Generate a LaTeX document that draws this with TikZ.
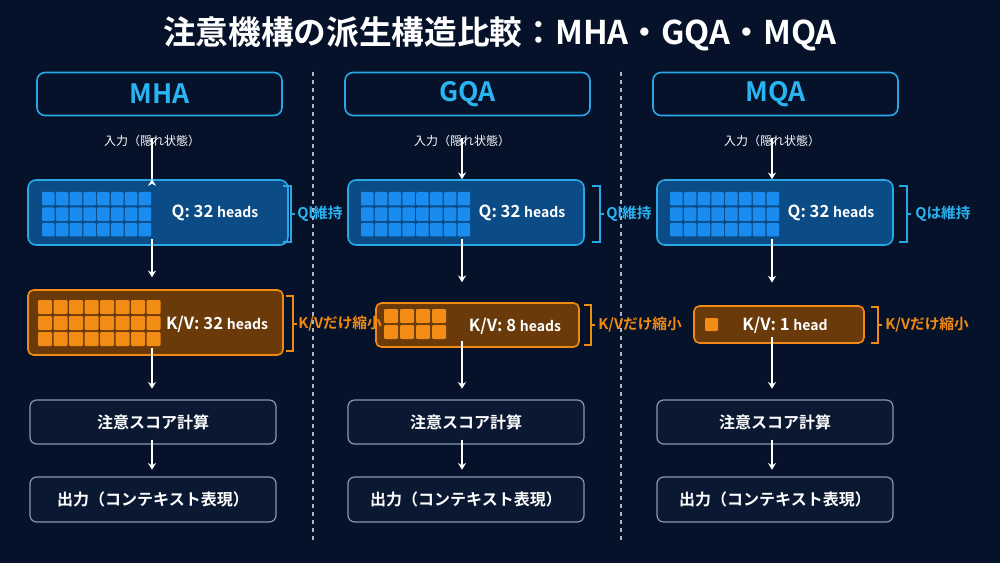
\documentclass[tikz,border=0pt]{standalone}
\usepackage{fontspec}
\setmainfont{Noto Sans CJK JP}[BoldFont={Noto Sans CJK JP Bold}]
\usetikzlibrary{arrows.meta}
\definecolor{bg}{HTML}{06122A}
\definecolor{cyanT}{HTML}{2AB4F2}
\definecolor{qfill}{HTML}{0B4C86}
\definecolor{qedge}{HTML}{2AA8E6}
\definecolor{qsq}{HTML}{1A8CF0}
\definecolor{kfill}{HTML}{6A3A0A}
\definecolor{kedge}{HTML}{F08A12}
\definecolor{ksq}{HTML}{F28C14}
\definecolor{gedge}{HTML}{8A98AE}
\definecolor{gfill}{HTML}{0A1832}
\begin{document}
\begin{tikzpicture}[x=0.75pt,y=-0.75pt,
  hdr/.style={draw=qedge,line width=1.2pt,rounded corners=6pt,fill=bg,text=cyanT,font=\bfseries\fontsize{20}{22}\selectfont,inner sep=0},
  qbox/.style={draw=qedge,line width=1.2pt,rounded corners=6pt,fill=qfill,inner sep=0},
  kbox/.style={draw=kedge,line width=1.2pt,rounded corners=4pt,fill=kfill,inner sep=0},
  gbox/.style={draw=gedge,line width=0.9pt,rounded corners=5pt,fill=gfill,text=white,font=\bfseries\fontsize{12}{14}\selectfont,inner sep=0},
  lbl/.style={text=white,font=\bfseries\fontsize{12.5}{14}\selectfont,inner sep=0},
  small/.style={text=white,font=\fontsize{9}{11}\selectfont,inner sep=0},
  side/.style={font=\bfseries\fontsize{11}{13}\selectfont,inner sep=0,anchor=west},
  arr/.style={draw=white,line width=1.1pt,-{Stealth[length=5pt,width=6pt]}},
  brk/.style={line width=1.1pt},
  qs/.style={fill=qsq,rounded corners=0.8pt},
  ks/.style={fill=ksq,rounded corners=0.8pt}]
\fill[bg] (0,0) rectangle (1000,563);
\node[text=white,font=\bfseries\fontsize{24.5}{28}\selectfont] (title) at (500,34) {注意機構の派生構造比較：MHA・GQA・MQA};
\draw[gedge!70,dashed,line width=0.8pt] (313,72) -- (313,540) (621,72) -- (621,540);
% headers
\node[hdr,minimum width=245*0.75pt,minimum height=43*0.75pt] (h1) at (159.5,94) {MHA};
\node[hdr,minimum width=245*0.75pt,minimum height=43*0.75pt] (h2) at (467.5,94) {GQA};
\node[hdr,minimum width=245*0.75pt,minimum height=43*0.75pt] (h3) at (775.5,94) {MQA};
% inputs
\node[small] (in1) at (152,141) {入力（隠れ状態）};
\node[small] (in2) at (462,141) {入力（隠れ状態）};
\node[small] (in3) at (772,141) {入力（隠れ状態）};
% Q boxes
\node[qbox,minimum width=260*0.75pt,minimum height=65*0.75pt] (q1) at (158,212.5) {};
\node[qbox,minimum width=236*0.75pt,minimum height=65*0.75pt] (q2) at (466,212.5) {};
\node[qbox,minimum width=236*0.75pt,minimum height=65*0.75pt] (q3) at (775,212.5) {};
\foreach \x in {42,361,670}{
  \foreach \c in {0,...,7}{\foreach \r in {0,1,2}{
    \fill[qs] (\x+\c*13.8,192+\r*15.5) rectangle ++(12.5,13.5);}}
}
\node[lbl] (ql1) at (215,213) {Q: 32 {\fontsize{10.5}{12}\selectfont heads}};
\node[lbl] (ql2) at (522,213) {Q: 32 {\fontsize{10.5}{12}\selectfont heads}};
\node[lbl] (ql3) at (831,213) {Q: 32 {\fontsize{10.5}{12}\selectfont heads}};
% K/V boxes
\node[kbox,minimum width=255*0.75pt,minimum height=65*0.75pt] (k1) at (155.5,322.5) {};
\node[kbox,minimum width=203*0.75pt,minimum height=44*0.75pt] (k2) at (477.5,325) {};
\node[kbox,minimum width=170*0.75pt,minimum height=37*0.75pt] (k3) at (779,324.5) {};
\foreach \c in {0,...,7}{\foreach \r in {0,1,2}{
  \fill[ks] (38+\c*15.5,300+\r*16) rectangle ++(14,14);}}
\foreach \c in {0,...,3}{\foreach \r in {0,1}{
  \fill[ks] (384+\c*16,309+\r*16) rectangle ++(14,14);}}
\fill[ks] (705,318) rectangle ++(13,13);
\node[lbl] (kl1) at (217,324) {K/V: 32 {\fontsize{10.5}{12}\selectfont heads}};
\node[lbl] (kl2) at (515,326) {K/V: 8 {\fontsize{10.5}{12}\selectfont heads}};
\node[lbl] (kl3) at (785,325) {K/V: 1 {\fontsize{10.5}{12}\selectfont head}};
% brackets
\draw[brk,qedge] (283,186) -- (291,186) -- (291,242) -- (283,242) (291,214) -- (295,214);
\draw[brk,qedge] (592,186) -- (600,186) -- (600,242) -- (592,242) (600,214) -- (604,214);
\draw[brk,qedge] (899,186) -- (907,186) -- (907,242) -- (899,242) (907,214) -- (911,214);
\node[side,text=cyanT] (s1) at (297,214) {Ql維持};
\node[side,text=cyanT] (s2) at (606,214) {Ql維持};
\node[side,text=cyanT] (s3) at (915,214) {Qは維持};
\draw[brk,kedge] (286,296) -- (293,296) -- (293,351) -- (286,351) (293,324) -- (297,324);
\draw[brk,kedge] (584,305) -- (591,305) -- (591,345) -- (584,345) (591,325) -- (595,325);
\draw[brk,kedge] (871,307) -- (878,307) -- (878,343) -- (871,343) (878,325) -- (882,325);
\node[side,text=kedge] (t1) at (298,324) {K/Vだけ縮小};
\node[side,text=kedge] (t2) at (598,325) {K/Vだけ縮小};
\node[side,text=kedge] (t3) at (885,325) {K/Vだけ縮小};
% score & output
\node[gbox,minimum width=246*0.75pt,minimum height=44*0.75pt] (a1) at (153,422) {注意スコア計算};
\node[gbox,minimum width=236*0.75pt,minimum height=44*0.75pt] (a2) at (466,422) {注意スコア計算};
\node[gbox,minimum width=236*0.75pt,minimum height=44*0.75pt] (a3) at (775,422) {注意スコア計算};
\node[gbox,minimum width=246*0.75pt,minimum height=45*0.75pt] (o1) at (153,499.5) {出力（コンテキスト表現）};
\node[gbox,minimum width=236*0.75pt,minimum height=45*0.75pt] (o2) at (466,499.5) {出力（コンテキスト表現）};
\node[gbox,minimum width=236*0.75pt,minimum height=45*0.75pt] (o3) at (775,499.5) {出力（コンテキスト表現）};
% arrows
\draw[arr] (in1.south) ++(0,-9) -- (q1.north -| in1.south) ++(0,0);
\draw[arr] (in2.south) ++(0,-9) -- (q2.north -| in2.south);
\draw[arr] (in3.south) ++(0,-9) -- (q3.north -| in3.south);
\draw[arr] (q1.south -| in1.south) ++(0,-7) -- ([yshift=9pt]k1.north -| in1.south);
\draw[arr] (q2.south -| in2.south) ++(0,-7) -- ([yshift=15pt]k2.north -| in2.south);
\draw[arr] (q3.south -| in3.south) ++(0,-7) -- ([yshift=17pt]k3.north -| in3.south);
\draw[arr] (k1.south -| in1.south) ++(0,-8) -- ([yshift=8pt]a1.north -| in1.south);
\draw[arr] (k2.south -| in2.south) ++(0,-7) -- ([yshift=8pt]a2.north -| in2.south);
\draw[arr] (k3.south -| in3.south) ++(0,-7) -- ([yshift=8pt]a3.north -| in3.south);
\draw[arr] (a1.south -| in1.south) ++(0,-5) -- ([yshift=5pt]o1.north -| in1.south);
\draw[arr] (a2.south -| in2.south) ++(0,-5) -- ([yshift=5pt]o2.north -| in2.south);
\draw[arr] (a3.south -| in3.south) ++(0,-5) -- ([yshift=5pt]o3.north -| in3.south);
\end{tikzpicture}
\end{document}
